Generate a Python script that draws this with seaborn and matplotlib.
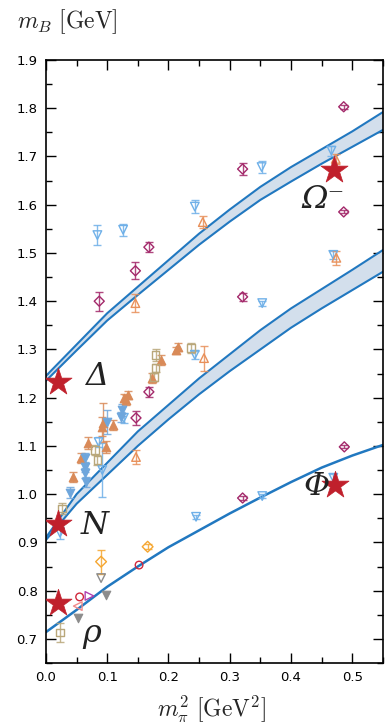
import numpy as np
import pandas as pd
import matplotlib
matplotlib.use("Agg")
import matplotlib.pyplot as plt
from matplotlib.ticker import MultipleLocator
import seaborn as sns

# ---- bands / lines (chiral extrapolation) ----
band_x = [0.0, 0.05, 0.1, 0.15, 0.2, 0.25, 0.3, 0.35, 0.4, 0.45, 0.5, 0.55]
delta_hi = [1.245, 1.31, 1.375, 1.43, 1.485, 1.54, 1.59, 1.637, 1.678, 1.715, 1.752, 1.792]
delta_lo = [1.235, 1.298, 1.36, 1.413, 1.465, 1.517, 1.565, 1.61, 1.648, 1.685, 1.72, 1.755]
nucl_hi = [0.91, 1.0, 1.065, 1.13, 1.185, 1.24, 1.29, 1.34, 1.385, 1.425, 1.465, 1.506]
nucl_lo = [0.905, 0.98, 1.04, 1.10, 1.155, 1.207, 1.255, 1.30, 1.345, 1.385, 1.423, 1.461]
rho_line = [0.714, 0.76, 0.808, 0.85, 0.89, 0.925, 0.96, 0.993, 1.025, 1.055, 1.08, 1.102]

# ---- lattice data ----
# light blue open down triangles
bo_x = [0.084, 0.126, 0.243, 0.352, 0.466, 0.127, 0.086, 0.092, 0.243, 0.469, 0.023, 0.245, 0.353, 0.469, 0.353]
bo_y = [1.537, 1.548, 1.596, 1.678, 1.712, 1.158, 1.108, 1.05, 1.289, 1.496, 0.92, 0.953, 0.996, 1.034, 1.396]
bo_e = [0.02, 0.012, 0.014, 0.012, 0.01, 0.01, 0.01, 0.055, 0.008, 0.008, 0.012, 0.004, 0.004, 0.008, 0.005]
# orange open up triangles
oo_x = [0.256, 0.473, 0.146, 0.258, 0.147, 0.474]
oo_y = [1.564, 1.695, 1.396, 1.282, 1.077, 1.49]
oo_e = [0.013, 0.01, 0.018, 0.026, 0.015, 0.015]
# purple open diamonds
pd_x = [0.087, 0.146, 0.168, 0.321, 0.486, 0.486, 0.168, 0.147, 0.321, 0.487, 0.321]
pd_y = [1.40, 1.463, 1.512, 1.674, 1.803, 1.585, 1.212, 1.158, 1.409, 1.098, 0.992]
pd_e = [0.02, 0.018, 0.01, 0.013, 0.004, 0.003, 0.01, 0.015, 0.008, 0.003, 0.004]
# orange filled up triangles
of_x = [0.216, 0.212, 0.187, 0.173, 0.134, 0.128, 0.131, 0.109, 0.093, 0.092, 0.098, 0.068, 0.058, 0.044]
of_y = [1.305, 1.298, 1.278, 1.241, 1.206, 1.200, 1.195, 1.144, 1.148, 1.14, 1.098, 1.106, 1.075, 1.036]
of_e = [0.008, 0.008, 0.01, 0.01, 0.008, 0.008, 0.01, 0.01, 0.04, 0.02, 0.012, 0.012, 0.01, 0.01]
# blue filled down triangles
bf_x = [0.124, 0.122, 0.099, 0.063, 0.063, 0.063, 0.065, 0.039]
bf_y = [1.175, 1.16, 1.15, 1.075, 1.056, 1.044, 1.025, 1.003]
bf_e = [0.012, 0.01, 0.025, 0.01, 0.01, 0.01, 0.01, 0.012]
# olive open squares
sq_x = [0.237, 0.179, 0.179, 0.176, 0.08, 0.084, 0.026, 0.023]
sq_y = [1.303, 1.289, 1.262, 1.243, 1.092, 1.071, 0.97, 0.713]
sq_e = [0.01, 0.012, 0.008, 0.008, 0.01, 0.01, 0.012, 0.02]
# rho-channel points
rc_x, rc_y = [0.055, 0.152], [0.787, 0.853]          # red circles
od_x, od_y, od_e = [0.09, 0.166], [0.86, 0.891], [0.025, 0.005]  # orange diamonds
go_x, go_y = [0.09], [0.826]                         # grey open down tri
gf_x, gf_y = [0.098, 0.052], [0.791, 0.744]          # grey filled down tri
pl_x, pl_y = [0.052], [0.768]                        # pink left tri
pr_x, pr_y = [0.071], [0.789]                        # purple right tri

# physical masses
phys_x = [0.0195, 0.0195, 0.0195, 0.47, 0.471]
phys_y = [1.232, 0.939, 0.775, 1.672, 1.019]

labels = ["Ω\u207b", "Δ", "N", "Φ", "ρ"]
label_x = [0.452, 0.083, 0.08, 0.442, 0.075]
label_y = [1.61, 1.243, 0.936, 1.015, 0.712]

BAND = "#2178c0"
FILL = "#d3dfec"

sns.set_theme(style="ticks")
plt.rcParams["font.family"] = ["DejaVu Sans"]
plt.rcParams["mathtext.fontset"] = "cm"

fig = plt.figure(figsize=(3.86, 7.28), dpi=100)
ax = fig.add_axes([0.119, 0.0893, 0.873, 0.8283])

# bands
for hi, lo in [(delta_hi, delta_lo), (nucl_hi, nucl_lo)]:
    ax.fill_between(band_x, lo, hi, color=FILL, lw=0, zorder=1)
    sns.lineplot(x=band_x, y=hi, color=BAND, lw=1.5, ax=ax, zorder=2)
    sns.lineplot(x=band_x, y=lo, color=BAND, lw=1.5, ax=ax, zorder=2)
sns.lineplot(x=band_x, y=rho_line, color=BAND, lw=1.8, ax=ax, zorder=2)


def points(x, y, err, color, marker, filled, size=38):
    if err is not None:
        ax.errorbar(x, y, yerr=err, fmt="none", ecolor=color, elinewidth=1.0,
                    capsize=3, capthick=1.0, alpha=0.85, zorder=3)
    if filled:
        sns.scatterplot(x=x, y=y, marker=marker, s=size, color=color,
                        edgecolor=color, linewidth=0.8, ax=ax, zorder=4)
    else:
        sns.scatterplot(x=x, y=y, marker=marker, s=size, color=color,
                        facecolor="none", edgecolor=color, linewidth=1.0, ax=ax, zorder=4)


points(bo_x, bo_y, bo_e, "#6fb0e8", "v", False)
points(oo_x, oo_y, oo_e, "#e8905a", "^", False)
points(pd_x, pd_y, pd_e, "#a3286a", "D", False, size=26)
points(of_x, of_y, of_e, "#d98a58", "^", True)
points(bf_x, bf_y, bf_e, "#6ea6dc", "v", True)
points(sq_x, sq_y, sq_e, "#b9a77a", "s", False, size=30)
points(rc_x, rc_y, None, "#d0283c", "o", False, size=30)
points(od_x, od_y, od_e, "#f5a630", "D", False, size=30)
points(go_x, go_y, None, "#8c8c8c", "v", False)
points(gf_x, gf_y, None, "#8c8c8c", "v", True)
points(pl_x, pl_y, None, "#f08a8a", "<", False)
points(pr_x, pr_y, None, "#b040b0", ">", False)

sns.scatterplot(x=phys_x, y=phys_y, marker="*", s=420, color="#c0202c",
                edgecolor="#c0202c", linewidth=0.5, ax=ax, zorder=5)

for t, lx, ly in zip(labels, label_x, label_y):
    ax.text(lx, ly, t, fontsize=23, ha="center", va="center", color="#222222",
            family="DejaVu Serif", style="italic", zorder=6)

ax.set_xlim(0, 0.55)
ax.set_ylim(0.65, 1.9)
ax.xaxis.set_major_locator(MultipleLocator(0.1))
ax.xaxis.set_minor_locator(MultipleLocator(0.05))
ax.yaxis.set_major_locator(MultipleLocator(0.1))
ax.yaxis.set_minor_locator(MultipleLocator(0.05))
ax.set_xticklabels([f"{v:.1f}" for v in ax.get_xticks()])
ax.set_yticklabels([f"{v:.1f}" for v in ax.get_yticks()])
ax.tick_params(which="both", direction="in", top=True, right=True, width=1.0,
               labelsize=9.5, colors="black")
ax.tick_params(which="major", length=7, pad=6)
ax.tick_params(which="minor", length=4)
for sp in ax.spines.values():
    sp.set_linewidth(1.2)
    sp.set_color("black")
ax.set_xlabel("")
ax.set_ylabel("")

fig.text(0.045, 0.97, r"$m_B\ [\mathrm{GeV}]$", fontsize=17, ha="left", va="center")
fig.text(0.547, 0.026, r"$m_\pi^2\ [\mathrm{GeV}^2]$", fontsize=17, ha="center", va="center")

fig.savefig("out.png", dpi=100)
